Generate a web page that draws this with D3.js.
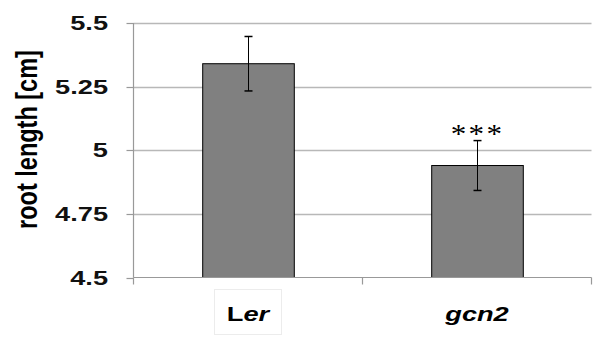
<!DOCTYPE html>
<html><head><meta charset="utf-8">
<script src="https://cdn.jsdelivr.net/npm/d3@7"></script>
<style>body{margin:0;background:#fff}svg{display:block}</style>
</head><body><svg id="c" width="609" height="346"></svg>
<script>
const categories = ["Ler", "gcn2"];
const values = [5.34, 4.94];
const errors = [0.107, 0.098];
const significance = ["", "***"];
const yTicks = [4.5, 4.75, 5, 5.25, 5.5];
const yTickLabels = ["4.5", "4.75", "5", "5.25", "5.5"];
const yTitle = "root length [cm]";

(function () {
const svg = d3.select("#c");
const pLeft = 133.5, pRight = 591.5, pTop = 23, pBottom = 277.5;
const SX = 1.36;

const y = d3.scaleLinear().domain([4.5, 5.5]).range([pBottom, pTop]);
const x = d3.scaleBand().domain(categories).range([pLeft, pRight]).paddingInner(0.6).paddingOuter(0.3);

// gridlines
svg.append("g").selectAll("line").data(yTicks.slice(1)).join("line")
  .attr("x1", pLeft).attr("x2", pRight)
  .attr("y1", d => Math.round(y(d)) + 0.5).attr("y2", d => Math.round(y(d)) + 0.5)
  .attr("stroke", "#b8b8b8").attr("stroke-width", 1.5);

// bars
svg.append("g").selectAll("rect").data(categories).join("rect")
  .attr("x", d => x(d) + 0.5).attr("width", x.bandwidth())
  .attr("y", (d, i) => y(values[i])).attr("height", (d, i) => pBottom - y(values[i]))
  .attr("fill", "#808080").attr("stroke", "#000").attr("stroke-width", 1);

// error bars
const eb = svg.append("g").attr("stroke", "#000").attr("stroke-width", 1);
categories.forEach((c, i) => {
  const cx = Math.round(x(c) + x.bandwidth() / 2) + 0.5;
  const hi = y(values[i] + errors[i]), lo = y(values[i] - errors[i]);
  eb.append("line").attr("x1", cx).attr("x2", cx).attr("y1", hi).attr("y2", lo);
  eb.append("line").attr("x1", cx - 4).attr("x2", cx + 4).attr("y1", hi).attr("y2", hi).attr("stroke-width", 1.5);
  eb.append("line").attr("x1", cx - 4).attr("x2", cx + 4).attr("y1", lo).attr("y2", lo).attr("stroke-width", 1.5);
  if (significance[i]) {
    svg.append("g").attr("transform", `translate(${cx},${hi + 2.5}) scale(1.15,1)`)
      .append("text").attr("text-anchor", "middle")
      .attr("font-family", "Liberation Serif, serif").attr("font-size", 27)
      .attr("letter-spacing", 2)
      .text(significance[i]);
  }
});

// y axis
const axisG = svg.append("g");
axisG.append("line").attr("x1", pLeft).attr("x2", pLeft).attr("y1", pTop).attr("y2", pBottom)
  .attr("stroke", "#999").attr("stroke-width", 1.2);
axisG.selectAll("line.t").data(yTicks).join("line").attr("class", "t")
  .attr("x1", pLeft - 7).attr("x2", pLeft)
  .attr("y1", d => Math.round(y(d)) + 0.5).attr("y2", d => Math.round(y(d)) + 0.5)
  .attr("stroke", "#999").attr("stroke-width", 1.2);
axisG.selectAll("g.lab").data(yTicks).join("g").attr("class", "lab")
  .attr("transform", d => `translate(108,${y(d)}) scale(${SX},1)`)
  .append("text").attr("text-anchor", "end").attr("dy", "0.36em")
  .attr("font-family", "Liberation Sans, Arial, sans-serif").attr("font-weight", "bold")
  .attr("font-size", 20).attr("fill", "#111")
  .text((d, i) => yTickLabels[i]);

// x axis
svg.append("line").attr("x1", pLeft).attr("x2", pRight).attr("y1", pBottom).attr("y2", pBottom)
  .attr("stroke", "#999").attr("stroke-width", 1.2);
const xTickPos = [pLeft, (pLeft + pRight) / 2, pRight];
svg.selectAll("line.xt").data(xTickPos).join("line").attr("class", "xt")
  .attr("x1", d => d).attr("x2", d => d).attr("y1", pBottom).attr("y2", pBottom + 7)
  .attr("stroke", "#999").attr("stroke-width", 1.2);

// category labels
const lerC = x("Ler") + x.bandwidth() / 2;
svg.append("rect").attr("x", lerC - 33.5).attr("y", 289.5).attr("width", 67).attr("height", 45)
  .attr("fill", "none").attr("stroke", "#ececec").attr("stroke-width", 1);
categories.forEach(c => {
  const g = svg.append("g").attr("transform", `translate(${x(c) + x.bandwidth() / 2},321) scale(${SX},1)`);
  const t = g.append("text").attr("text-anchor", "middle")
    .attr("font-family", "Liberation Sans, Arial, sans-serif").attr("font-weight", "bold")
    .attr("font-size", 20).attr("fill", "#000");
  if (c === "Ler") {
    t.append("tspan").text("L");
    t.append("tspan").attr("font-style", "italic").text("er");
  } else {
    t.attr("font-style", "italic").text(c);
  }
});

// y title
svg.append("text")
  .attr("transform", `translate(37,${(49 + 230) / 2}) scale(1.28,1) rotate(-90)`)
  .attr("text-anchor", "middle")
  .attr("font-family", "Liberation Sans, Arial, sans-serif").attr("font-weight", "bold")
  .attr("font-size", 23.5).attr("fill", "#000")
  .text(yTitle);
})();
</script></body></html>
